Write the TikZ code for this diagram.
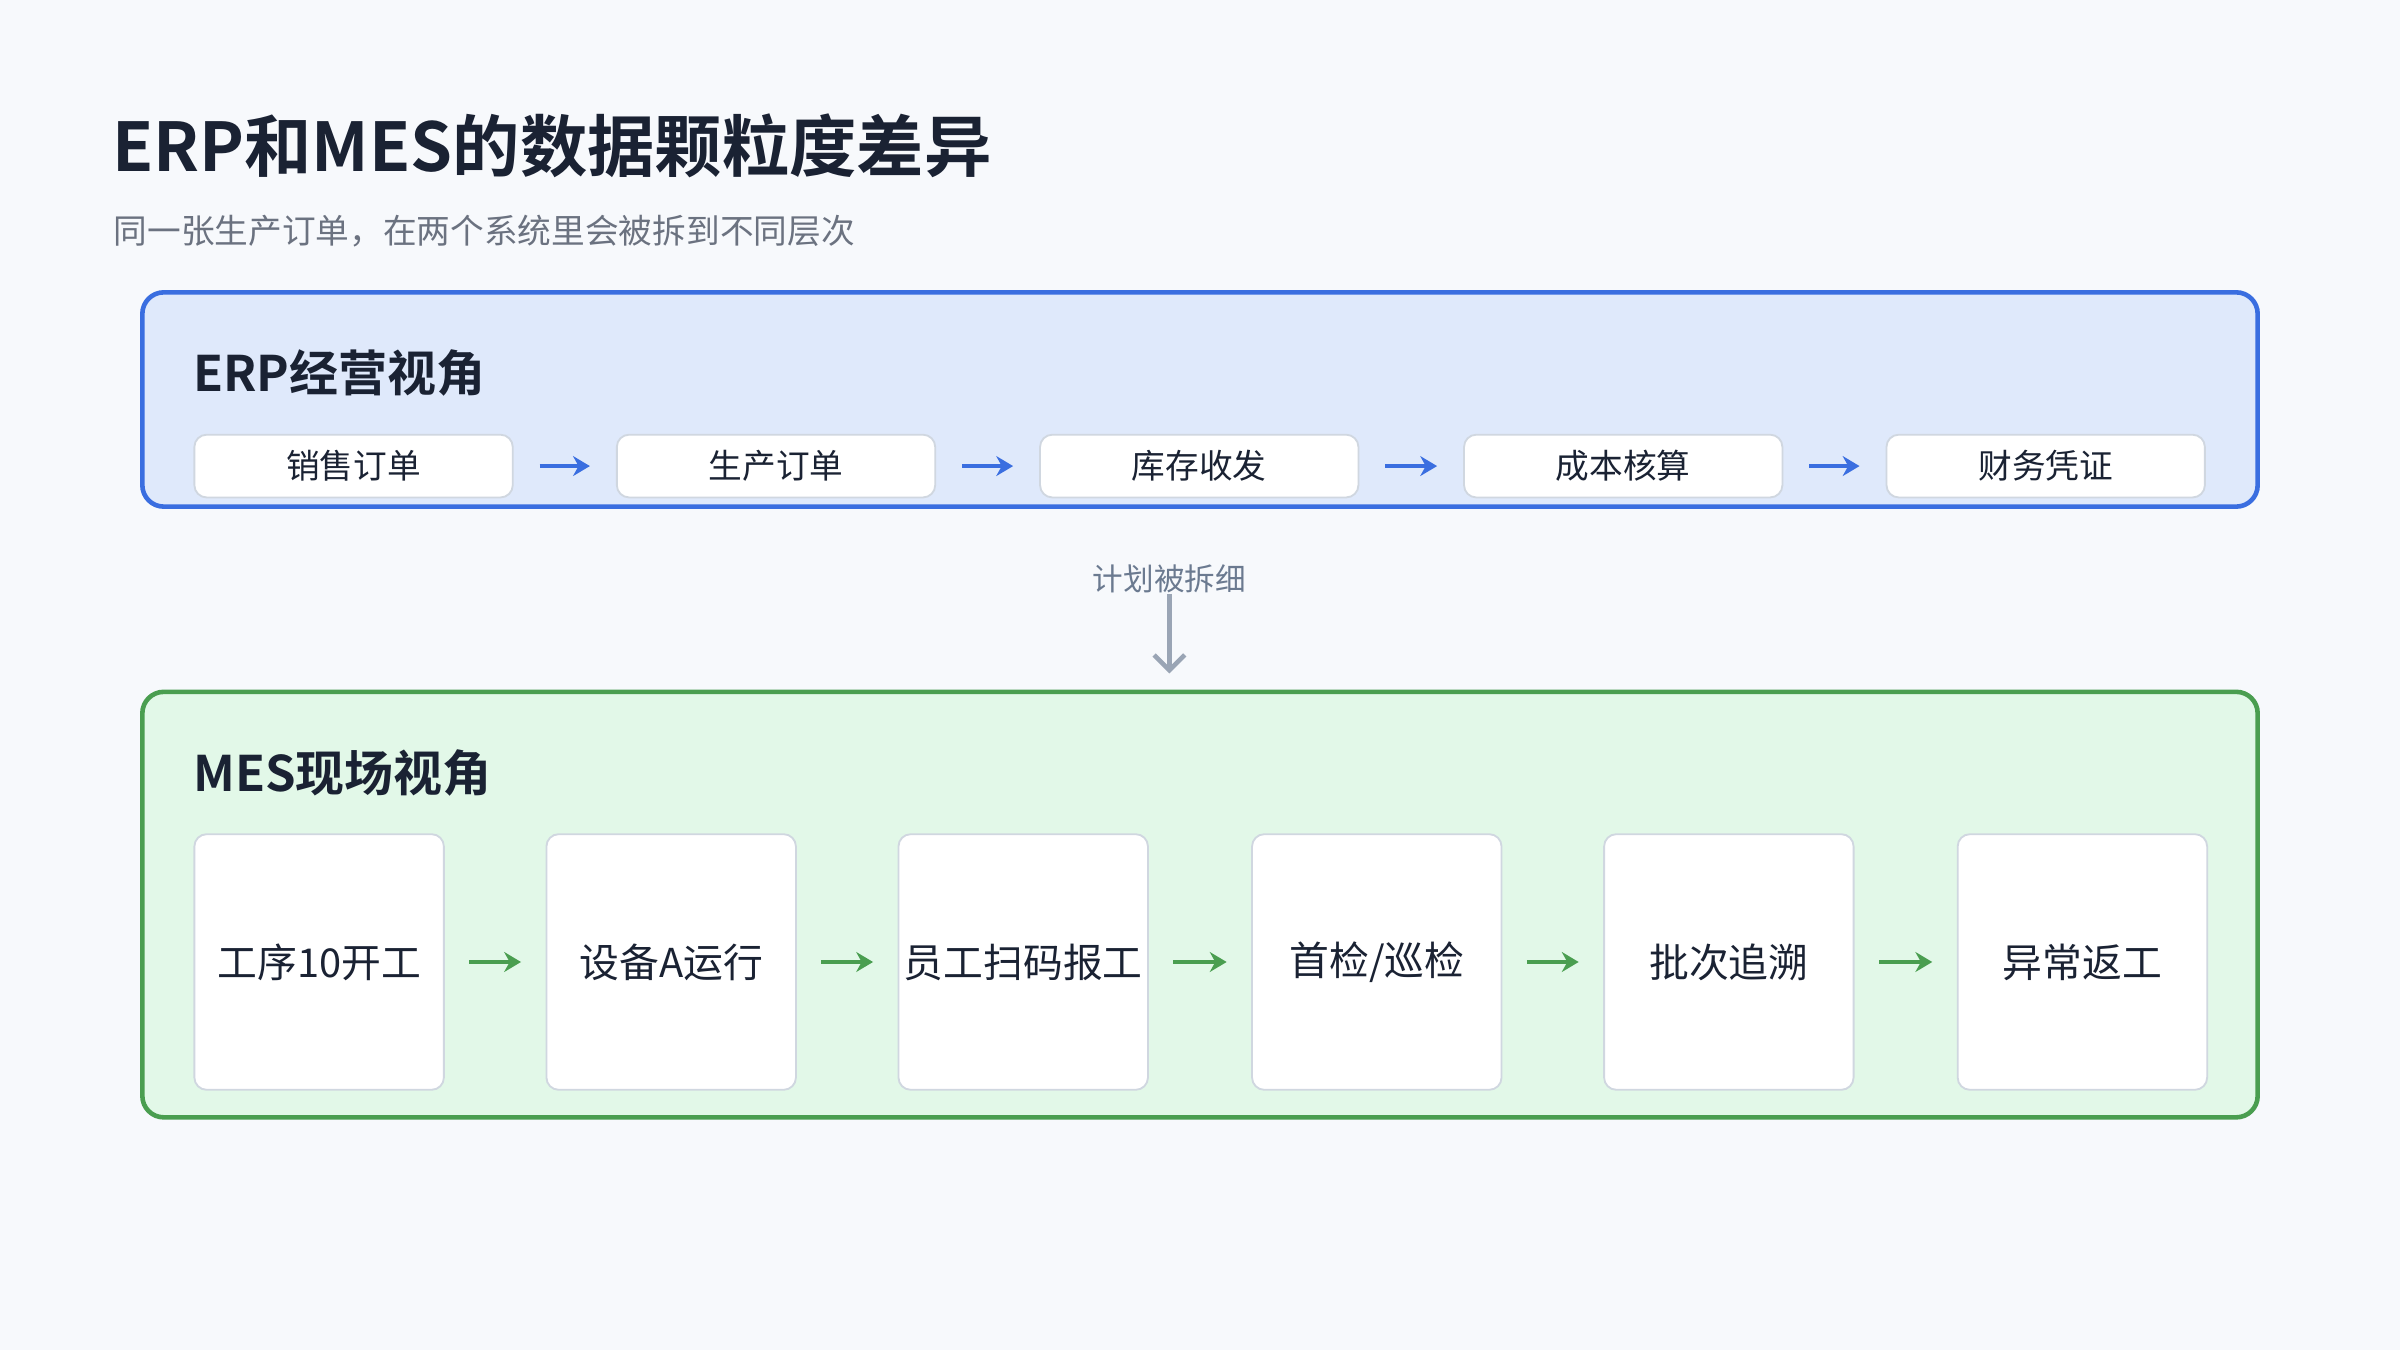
\documentclass[tikz,border=0pt]{standalone}
\usepackage{fontspec}
\setmainfont{Noto Sans CJK SC}
\newfontfamily\cjkb{Noto Sans CJK SC Bold}
\usetikzlibrary{arrows.meta}
\definecolor{bg}{HTML}{F7F9FC}
\definecolor{ttl}{HTML}{1A2233}
\definecolor{sub}{HTML}{6B7280}
\definecolor{erpf}{HTML}{DFE9FB}
\definecolor{erpd}{HTML}{3A6EE0}
\definecolor{mesf}{HTML}{E2F8E8}
\definecolor{mesd}{HTML}{4A9E50}
\definecolor{bd}{HTML}{D0D7E0}
\definecolor{mid}{HTML}{6B7A90}
\definecolor{mida}{HTML}{9AA5B5}
\begin{document}
\begin{tikzpicture}[x=0.5pt,y=-0.5pt,
  panel/.style={rounded corners=7pt,line width=1.5pt},
  ebox/.style={draw=bd,fill=white,rounded corners=4pt,line width=0.6pt,minimum width=104pt,minimum height=20.5pt,inner sep=0pt,font=\fontsize{11}{13}\selectfont,text=ttl},
  mbox/.style={draw=bd,fill=white,rounded corners=4pt,line width=0.6pt,minimum width=81.5pt,minimum height=83.5pt,inner sep=0pt,font=\fontsize{13}{16}\selectfont,text=ttl},
  earr/.style={draw=erpd,line width=1.3pt,-{Stealth[length=5.5pt,width=6.5pt]},shorten <=8.5pt,shorten >=8.5pt},
  marr/.style={draw=mesd,line width=1.3pt,-{Stealth[length=5.5pt,width=6.5pt]},shorten <=8pt,shorten >=8pt}]
\path[fill=bg] (0,0) rectangle (1568,882);
\useasboundingbox (0,0) rectangle (1568,882);
\node[anchor=west,inner sep=0pt,text=ttl,font=\cjkb\fontsize{22}{26}\selectfont] (title) at (73,95) {ERP和MES的数据颗粒度差异};
\node[anchor=west,inner sep=0pt,text=sub,font=\fontsize{11}{14}\selectfont] (subt) at (74,151) {同一张生产订单，在两个系统里会被拆到不同层次};
\draw[panel,draw=erpd,fill=erpf] (93,191) rectangle (1475,331);
\node[anchor=west,inner sep=0pt,text=ttl,font=\cjkb\fontsize{16}{19}\selectfont] (erpt) at (126,244) {ERP经营视角};
\foreach \i/\x/\t in {1/231/销售订单,2/507/生产订单,3/783.5/库存收发,4/1060.5/成本核算,5/1336.5/财务凭证}
  \node[ebox] (e\i) at (\x,304.5) {\t};
\foreach \a/\b in {1/2,2/3,3/4,4/5} \draw[earr] (e\a.east) -- (e\b.west);
\node[inner sep=0pt,text=mid,font=\fontsize{10}{12}\selectfont] (lbl) at (764,378) {计划被拆细};
\coordinate (ma) at (764,388);
\coordinate (mb) at (764,440);
\draw[mida,line width=1.5pt,-{Straight Barb[length=5pt,width=10pt]}] (ma) -- (mb);
\draw[panel,draw=mesd,fill=mesf] (93,452) rectangle (1475,730);
\node[anchor=west,inner sep=0pt,text=ttl,font=\cjkb\fontsize{16}{19}\selectfont] (mest) at (126,505) {MES现场视角};
\foreach \i/\x/\t in {1/208.5/{工序10开工},2/438.5/{设备A运行},3/668.5/{员工扫码报工},4/899.5/{首检/巡检},5/1129.5/{批次追溯},6/1360.5/{异常返工}}
  \node[mbox] (m\i) at (\x,628.5) {\t};
\foreach \a/\b in {1/2,2/3,3/4,4/5,5/6} \draw[marr] (m\a.east) -- (m\b.west);
\end{tikzpicture}
\end{document}
